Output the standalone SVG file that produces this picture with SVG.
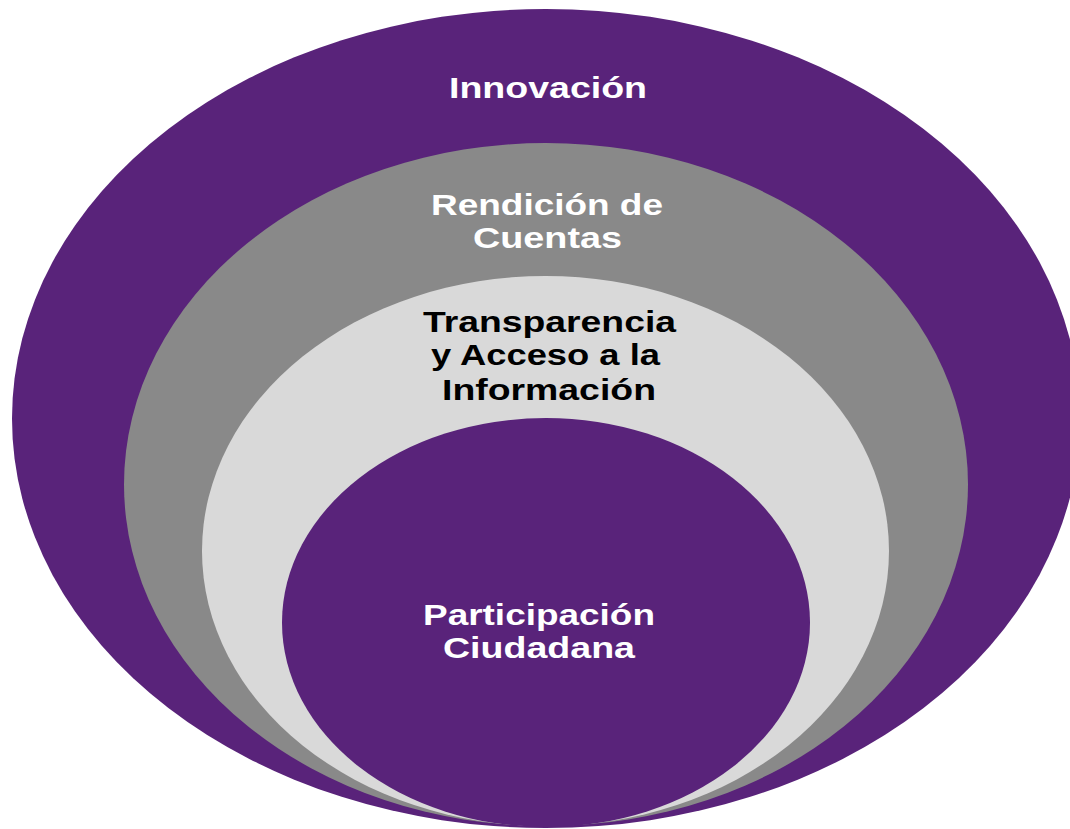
<svg xmlns="http://www.w3.org/2000/svg" width="1070" height="829" viewBox="0 0 1070 829">
<style>
.t{font-family:"Liberation Sans",Arial,sans-serif;font-weight:bold;font-size:29px;text-anchor:middle}
.w{fill:#ffffff}
.b{fill:#000000}
</style>
<rect width="1070" height="829" fill="#ffffff"/>
<g id="innovacion">
<ellipse cx="546" cy="418.5" rx="534" ry="409.5" fill="#59237A"/>
<text class="t w" x="548" y="98" textLength="198" lengthAdjust="spacingAndGlyphs">Innovación</text>
</g>
<g id="rendicion">
<ellipse cx="546" cy="484.5" rx="422" ry="341.5" fill="#898989"/>
<text class="t w" x="547" y="215" textLength="232" lengthAdjust="spacingAndGlyphs">Rendición de</text>
<text class="t w" x="547.5" y="248" textLength="149" lengthAdjust="spacingAndGlyphs">Cuentas</text>
</g>
<g id="transparencia">
<ellipse cx="545.5" cy="551" rx="343.5" ry="275" fill="#D9D9D9"/>
<text class="t b" x="549.5" y="332" textLength="253" lengthAdjust="spacingAndGlyphs">Transparencia</text>
<text class="t b" x="545.5" y="365" textLength="229" lengthAdjust="spacingAndGlyphs">y Acceso a la</text>
<text class="t b" x="549" y="400" textLength="214" lengthAdjust="spacingAndGlyphs">Información</text>
</g>
<g id="participacion">
<ellipse cx="546" cy="622.5" rx="264" ry="204.5" fill="#59237A"/>
<text class="t w" x="539" y="625" textLength="232" lengthAdjust="spacingAndGlyphs">Participación</text>
<text class="t w" x="539" y="658" textLength="192" lengthAdjust="spacingAndGlyphs">Ciudadana</text>
</g>
<g id="connectors"></g>
</svg>
